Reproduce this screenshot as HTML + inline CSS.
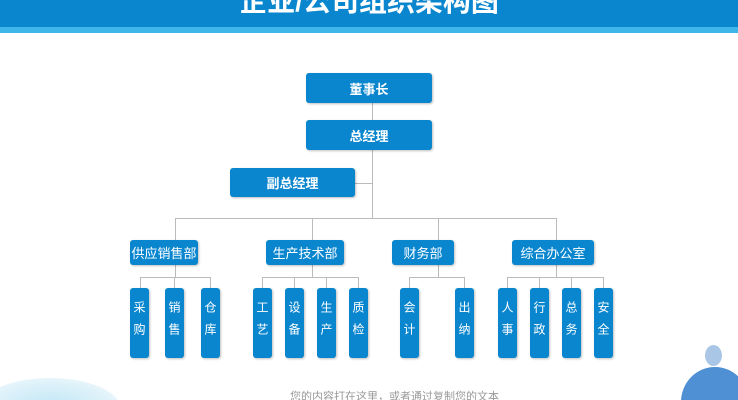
<!DOCTYPE html>
<html style="width:738px;height:400px;overflow:hidden;margin:0"><head><meta charset="utf-8"><style>
body{margin:0;width:738px;height:400px;overflow:hidden;background:#fff;position:relative;font-family:"Liberation Sans","Noto Sans CJK SC",sans-serif}
.hdr{position:absolute;left:0;top:0;width:738px;height:27px;background:#0a86cf}
.hdr2{position:absolute;left:0;top:27px;width:738px;height:6px;background:#3fb6ea}
.title{position:absolute;left:0;width:738px;top:-14px;text-align:center;color:#fff;font-size:28px;font-weight:bold;line-height:32px}
.b{position:absolute;background:#0a86cf;color:#fff;border-radius:3px;display:flex;align-items:center;justify-content:center;box-shadow:1px 1px 2px rgba(0,0,0,.25)}
.top{font-size:13px;font-weight:bold}
.d{font-size:13px}
.s{font-size:12px;writing-mode:vertical-rl;letter-spacing:10px;width:19px}
.l{position:absolute;background:#bbb}
</style></head><body>
<div class="hdr"></div><div class="hdr2"></div>
<div class="title">企业/公司组织架构图</div>
<div class="l" style="left:372px;top:103px;width:1px;height:115px"></div>
<div class="l" style="left:355px;top:183px;width:17px;height:1px"></div>
<div class="l" style="left:175px;top:218px;width:382px;height:1px"></div>
<div class="l" style="left:175px;top:218px;width:1px;height:22px"></div>
<div class="l" style="left:312px;top:218px;width:1px;height:22px"></div>
<div class="l" style="left:438px;top:218px;width:1px;height:22px"></div>
<div class="l" style="left:556px;top:218px;width:1px;height:22px"></div>
<div class="l" style="left:175px;top:265px;width:1px;height:12px"></div>
<div class="l" style="left:312px;top:265px;width:1px;height:12px"></div>
<div class="l" style="left:438px;top:265px;width:1px;height:12px"></div>
<div class="l" style="left:556px;top:265px;width:1px;height:12px"></div>
<div class="l" style="left:140px;top:277px;width:70px;height:1px"></div>
<div class="l" style="left:262px;top:277px;width:97px;height:1px"></div>
<div class="l" style="left:409px;top:277px;width:56px;height:1px"></div>
<div class="l" style="left:507px;top:277px;width:97px;height:1px"></div>
<div class="l" style="left:140px;top:277px;width:1px;height:11px"></div>
<div class="l" style="left:174px;top:277px;width:1px;height:11px"></div>
<div class="l" style="left:210px;top:277px;width:1px;height:11px"></div>
<div class="l" style="left:262px;top:277px;width:1px;height:11px"></div>
<div class="l" style="left:294px;top:277px;width:1px;height:11px"></div>
<div class="l" style="left:326px;top:277px;width:1px;height:11px"></div>
<div class="l" style="left:358px;top:277px;width:1px;height:11px"></div>
<div class="l" style="left:409px;top:277px;width:1px;height:11px"></div>
<div class="l" style="left:464px;top:277px;width:1px;height:11px"></div>
<div class="l" style="left:507px;top:277px;width:1px;height:11px"></div>
<div class="l" style="left:539px;top:277px;width:1px;height:11px"></div>
<div class="l" style="left:571px;top:277px;width:1px;height:11px"></div>
<div class="l" style="left:603px;top:277px;width:1px;height:11px"></div>
<div class="b top" style="left:306px;top:73px;width:126px;height:30px">董事长</div>
<div class="b top" style="left:306px;top:120px;width:126px;height:30px">总经理</div>
<div class="b top" style="left:230px;top:168px;width:125px;height:29px">副总经理</div>
<div class="b d" style="left:130px;top:240px;width:68px;height:25px">供应销售部</div>
<div class="b d" style="left:266px;top:240px;width:78px;height:25px">生产技术部</div>
<div class="b d" style="left:392px;top:240px;width:62px;height:25px">财务部</div>
<div class="b d" style="left:512px;top:240px;width:82px;height:25px">综合办公室</div>
<div class="b s" style="left:130px;top:288px;height:70px">采购</div>
<div class="b s" style="left:165px;top:288px;height:70px">销售</div>
<div class="b s" style="left:201px;top:288px;height:70px">仓库</div>
<div class="b s" style="left:253px;top:288px;height:70px">工艺</div>
<div class="b s" style="left:285px;top:288px;height:70px">设备</div>
<div class="b s" style="left:317px;top:288px;height:70px">生产</div>
<div class="b s" style="left:349px;top:288px;height:70px">质检</div>
<div class="b s" style="left:400px;top:288px;height:70px">会计</div>
<div class="b s" style="left:455px;top:288px;height:70px">出纳</div>
<div class="b s" style="left:498px;top:288px;height:70px">人事</div>
<div class="b s" style="left:530px;top:288px;height:70px">行政</div>
<div class="b s" style="left:562px;top:288px;height:70px">总务</div>
<div class="b s" style="left:594px;top:288px;height:70px">安全</div>
<div style="position:absolute;left:0;top:0;width:738px;height:400px;overflow:hidden">
<div style="position:absolute;left:-20px;top:378px;width:140px;height:60px;border-radius:50%;background:radial-gradient(ellipse at center,#bfe6f5 0%,#dff2fa 60%,#fff 100%)"></div>
<div style="position:absolute;left:705px;top:345px;width:17px;height:21px;border-radius:50%;background:#a9c6e6"></div>
<div style="position:absolute;left:681px;top:367px;width:68px;height:70px;border-radius:50%;background:#4f8fd3"></div>
<div style="position:absolute;left:290px;top:391px;color:#999;font-size:11px;line-height:12px">您的内容打在这里，或者通过复制您的文本</div>
</div>
</body></html>
